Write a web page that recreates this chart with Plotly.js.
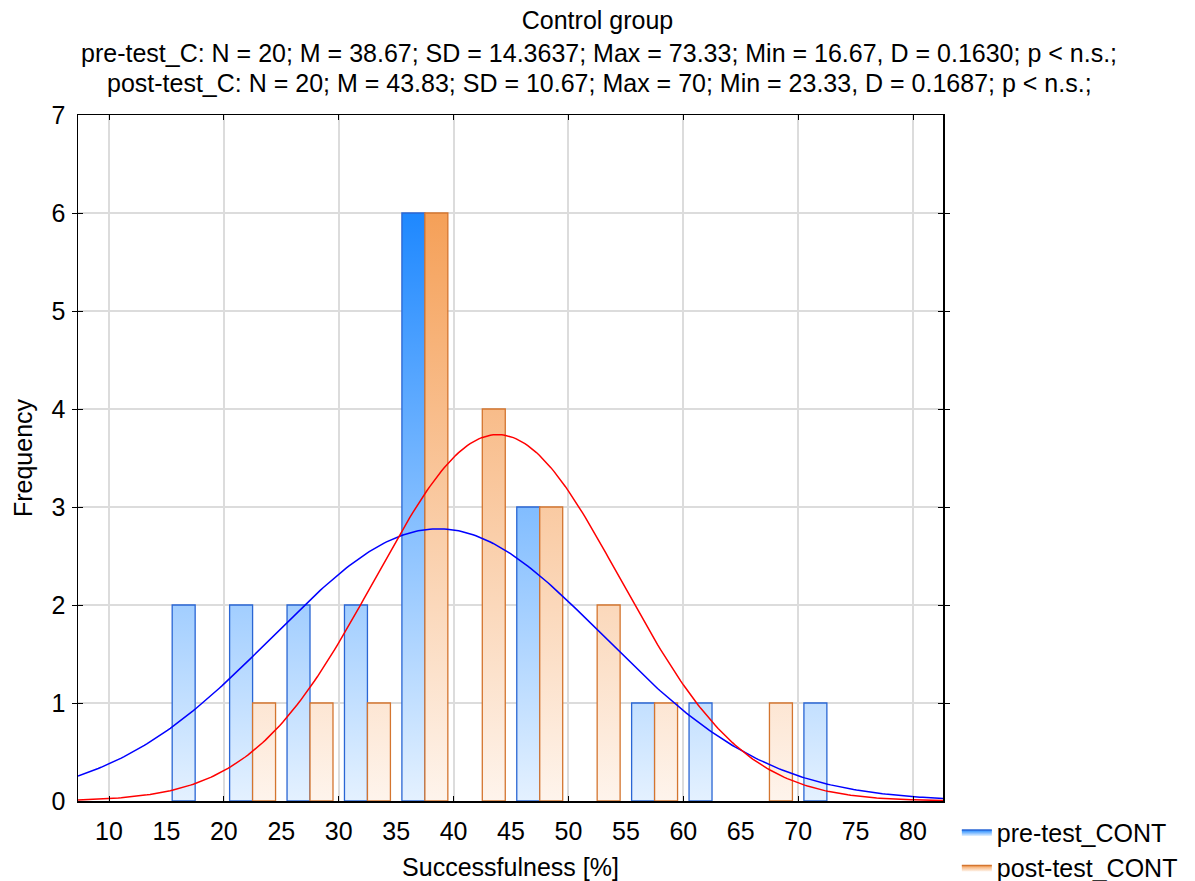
<!DOCTYPE html>
<html><head><meta charset="utf-8">
<script src="https://cdn.plot.ly/plotly-3.0.1.min.js"></script>
<style>body{margin:0;background:#fff}#chart{width:1195px;height:881px}</style>
</head><body><div id="chart"></div>
<script>
// bin centres (bins of width 5: 15-20, 20-25, ... 70-75)
const binCenters = [17.5, 22.5, 27.5, 32.5, 37.5, 42.5, 47.5, 52.5, 57.5, 62.5, 67.5, 72.5];
const preCounts  = [2, 2, 2, 2, 6, 0, 3, 0, 1, 1, 0, 1];
const postCounts = [0, 1, 1, 1, 6, 4, 3, 2, 1, 0, 1, 0];
const seriesNames = ['pre-test_CONT', 'post-test_CONT'];
// fitted normal curves: [N, mean, SD]
const preStats  = [20, 38.67, 14.3637];
const postStats = [20, 43.83, 10.67];
const binWidth = 5;
const xTickVals = [10, 15, 20, 25, 30, 35, 40, 45, 50, 55, 60, 65, 70, 75, 80];
const titleLines = [
  'Control group',
  'pre-test_C: N = 20; M = 38.67; SD = 14.3637; Max = 73.33; Min = 16.67, D = 0.1630; p < n.s.;',
  'post-test_C: N = 20; M = 43.83; SD = 10.67; Max = 70; Min = 23.33, D = 0.1687; p < n.s.;'
];

const FONT = '"Liberation Sans", Arial, sans-serif';
const FS = 25;
const XR = [7.3, 82.61];

function barPolys(counts, offsetLeft, barW) {
  const xs = [], ys = [];
  counts.forEach((c, i) => {
    if (!c) return;
    const x0 = binCenters[i] + offsetLeft, x1 = x0 + barW;
    xs.push(x0, x0, x1, x1, x0, null);
    ys.push(0, c, c, 0, 0, null);
  });
  return {xs, ys};
}
function normalCurve(stats) {
  const [n, m, sd] = stats;
  const xs = [], ys = [];
  const steps = 300;
  for (let k = 0; k <= steps; k++) {
    const x = XR[0] + (XR[1] - XR[0]) * k / steps;
    const z = (x - m) / sd;
    xs.push(x);
    ys.push(n * binWidth * Math.exp(-0.5 * z * z) / (sd * Math.sqrt(2 * Math.PI)));
  }
  return {xs, ys};
}

const pre = barPolys(preCounts, -2, 2);
const post = barPolys(postCounts, 0, 2);
const preC = normalCurve(preStats);
const postC = normalCurve(postStats);

const traces = [
  {x: pre.xs, y: pre.ys, type: 'scatter', mode: 'lines', fill: 'toself', name: seriesNames[0],
   line: {color: '#2a66d4', width: 1.3},
   fillgradient: {type: 'vertical', start: 0, stop: 6,
     colorscale: [[0, '#e4f1ff'], [1, '#1e88ff']]},
   hoverinfo: 'skip'},
  {x: post.xs, y: post.ys, type: 'scatter', mode: 'lines', fill: 'toself', name: seriesNames[1],
   line: {color: '#d4752f', width: 1.3},
   fillgradient: {type: 'vertical', start: 0, stop: 6,
     colorscale: [[0, '#fef4ec'], [1, '#f5a058']]},
   hoverinfo: 'skip'},
  {x: preC.xs, y: preC.ys, type: 'scatter', mode: 'lines', line: {color: '#0000ff', width: 1.5}, showlegend: false, hoverinfo: 'skip'},
  {x: postC.xs, y: postC.ys, type: 'scatter', mode: 'lines', line: {color: '#ff0000', width: 1.5}, showlegend: false, hoverinfo: 'skip'},
  {x: [XR[0]], y: [0], xaxis: 'x2', yaxis: 'y', mode: 'markers', marker: {opacity: 0}, showlegend: false, hoverinfo: 'skip'}
];

const layout = {
  width: 1195, height: 881,
  paper_bgcolor: '#fff', plot_bgcolor: '#fff',
  font: {family: FONT, size: FS, color: '#000'},
  margin: {l: 78, r: 252, t: 115, b: 80, autoexpand: false},
  title: {text: titleLines[0], x: 0.5, xref: 'container', xanchor: 'center',
          y: 1 - 20 / 881, yref: 'container', yanchor: 'middle', font: {size: FS}},
  annotations: [
    {text: titleLines[1], xref: 'paper', yref: 'paper', x: (599 - 78) / 865, y: (801 - 53) / 686,
     xanchor: 'center', yanchor: 'middle', showarrow: false, font: {size: FS}},
    {text: titleLines[2], xref: 'paper', yref: 'paper', x: (599 - 78) / 865, y: (801 - 83) / 686,
     xanchor: 'center', yanchor: 'middle', showarrow: false, font: {size: FS}}
  ],
  xaxis: {range: XR, tickvals: xTickVals, ticks: '', showgrid: false, zeroline: false,
          showline: true, linecolor: '#000', linewidth: 1.5, mirror: true,
          tickfont: {size: FS}, ticklabelstandoff: 7,
          title: {text: 'Successfulness [%]', font: {size: FS}, standoff: 18}},
  xaxis2: {range: XR, overlaying: 'x', side: 'bottom', dtick: 10, tick0: 0,
           showgrid: true, gridcolor: '#dcdcdc', gridwidth: 2, showticklabels: false,
           ticks: 'inside', ticklen: 5, tickcolor: '#000', mirror: 'ticks', showline: false, zeroline: false},
  yaxis: {range: [0, 7], dtick: 1, showgrid: true, gridcolor: '#dcdcdc', gridwidth: 2,
          ticks: 'inside', ticklen: 5, tickcolor: '#000', zeroline: false,
          showline: true, linecolor: '#000', linewidth: 1.5, mirror: 'allticks',
          tickfont: {size: FS}, ticklabelstandoff: 6,
          title: {text: 'Frequency', font: {size: FS}, standoff: 12}},
  legend: {x: 1.016, y: -0.012, xanchor: 'left', yanchor: 'top', font: {size: FS},
           bgcolor: 'rgba(0,0,0,0)', tracegroupgap: 0, itemwidth: 30},
  showlegend: true
};

Plotly.newPlot('chart', traces, layout, {displayModeBar: false, staticPlot: true});
</script></body></html>
